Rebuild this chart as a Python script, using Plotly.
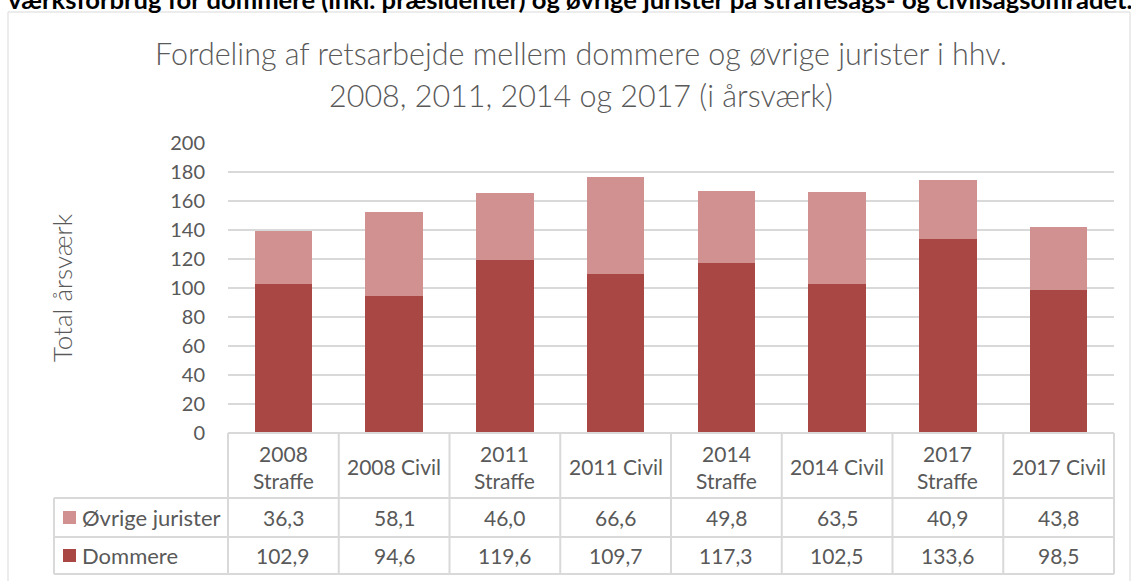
import plotly.graph_objects as go

# ---------------- data ----------------
categories = ["2008<br>Straffe", "2008 Civil", "2011<br>Straffe", "2011 Civil",
              "2014<br>Straffe", "2014 Civil", "2017<br>Straffe", "2017 Civil"]
dommere = [102.9, 94.6, 119.6, 109.7, 117.3, 102.5, 133.6, 98.5]
ovrige = [36.3, 58.1, 46.0, 66.6, 49.8, 63.5, 40.9, 43.8]
series_names = ["Øvrige jurister", "Dommere"]
y_ticks = list(range(0, 201, 20))
title_lines = ["Fordeling af retsarbejde mellem dommere og øvrige jurister i hhv.",
               "2008, 2011, 2014 og 2017 (i årsværk)"]
y_title = "Total årsværk"
top_text = "værksforbrug for dommere (inkl. præsidenter) og øvrige jurister på straffesags- og civilsagsområdet."

# ---------------- styling ----------------
W, H = 1131, 581
FONT = "Lato"
GRAY = "#595959"
LINE = "#d9d9d9"
C_DARK = "#a94745"
C_LIGHT = "#d19190"

X0, X1 = 228, 1114      # plot area (px)
Y_TOP, Y_BOT = 143, 433
ROW_Y = [433, 498, 537, 574]   # table row boundaries (px)
LEG_X = 54
TXT = 21


def px(x):
    return x / W


def py(y):
    return 1 - y / H


def fmt(v):
    return f"{v:.1f}".replace(".", ",")


n = len(categories)
xs = list(range(n))

fig = go.Figure()
fig.add_trace(go.Bar(x=xs, y=dommere, name=series_names[1], marker_color=C_DARK,
                     width=0.52, showlegend=False, marker_line_width=0))
fig.add_trace(go.Bar(x=xs, y=ovrige, name=series_names[0], marker_color=C_LIGHT,
                     width=0.52, showlegend=False, marker_line_width=0))

shapes = []
# outer chart border
shapes.append(dict(type="rect", xref="paper", yref="paper", x0=px(8), x1=px(1130),
                   y0=py(620), y1=py(12), line=dict(color=LINE, width=1), layer="below"))
# table horizontal lines
shapes.append(dict(type="line", xref="paper", yref="paper", x0=px(X0), x1=px(X1),
                   y0=py(ROW_Y[0]), y1=py(ROW_Y[0]), line=dict(color=LINE, width=2)))
for yy in ROW_Y[1:]:
    shapes.append(dict(type="line", xref="paper", yref="paper", x0=px(LEG_X), x1=px(X1),
                       y0=py(yy), y1=py(yy), line=dict(color=LINE, width=2)))
# table vertical lines
colw = (X1 - X0) / n
for i in range(n + 1):
    xx = X0 + i * colw
    shapes.append(dict(type="line", xref="paper", yref="paper", x0=px(xx), x1=px(xx),
                       y0=py(ROW_Y[0]), y1=py(ROW_Y[3]), line=dict(color=LINE, width=2)))
shapes.append(dict(type="line", xref="paper", yref="paper", x0=px(LEG_X), x1=px(LEG_X),
                   y0=py(ROW_Y[1]), y1=py(ROW_Y[3]), line=dict(color=LINE, width=2)))

annotations = []
# legend entries in table
for r, (nm, col) in enumerate([(series_names[0], C_LIGHT), (series_names[1], C_DARK)]):
    yc = (ROW_Y[r + 1] + ROW_Y[r + 2]) / 2
    shapes.append(dict(type="rect", xref="paper", yref="paper", x0=px(63), x1=px(76),
                       y0=py(yc + 6.5), y1=py(yc - 6.5), fillcolor=col, line=dict(width=0)))
    annotations.append(dict(xref="paper", yref="paper", x=px(80), y=py(yc), text=nm,
                            showarrow=False, xanchor="left", yanchor="middle",
                            font=dict(family=FONT, size=22, color=GRAY)))

# header and values
for i, cat in enumerate(categories):
    annotations.append(dict(xref="x", yref="paper", x=i, y=py((ROW_Y[0] + ROW_Y[1]) / 2 + 1),
                            text=cat, showarrow=False, xanchor="center", yanchor="middle",
                            font=dict(family=FONT, size=TXT, color=GRAY)))
    for r, vals in enumerate([ovrige, dommere]):
        yc = (ROW_Y[r + 1] + ROW_Y[r + 2]) / 2
        annotations.append(dict(xref="x", yref="paper", x=i, y=py(yc), text=fmt(vals[i]),
                                showarrow=False, xanchor="center", yanchor="middle",
                                font=dict(family=FONT, size=TXT, color=GRAY)))

# chart titles
annotations.append(dict(xref="paper", yref="paper", x=px(581), y=py(53), text=title_lines[0],
                        showarrow=False, xanchor="center", yanchor="middle",
                        font=dict(family=FONT, size=30.5, color=GRAY, weight=300)))
annotations.append(dict(xref="paper", yref="paper", x=px(581), y=py(95), text=title_lines[1],
                        showarrow=False, xanchor="center", yanchor="middle",
                        font=dict(family=FONT, size=30.5, color=GRAY, weight=300)))
annotations.append(dict(xref="paper", yref="paper", x=px(62), y=py(288), text=y_title,
                        showarrow=False, textangle=-90, xanchor="center", yanchor="middle",
                        font=dict(family=FONT, size=26, color=GRAY, weight=300)))

fig.update_layout(
    template="none",
    width=W, height=H,
    autosize=False,
    margin=dict(l=0, r=0, t=0, b=0, pad=0, autoexpand=False),
    paper_bgcolor="white", plot_bgcolor="white",
    barmode="stack",
    showlegend=False,
    title=dict(text="<b>" + top_text + "</b>", x=px(8), xanchor="left", xref="container",
               y=1, yref="container", yanchor="middle", automargin=False,
               font=dict(family=FONT, size=25.6, color="#000000")),
    xaxis=dict(domain=[px(X0), px(X1)], range=[-0.5, n - 0.5], showticklabels=False,
               showgrid=False, zeroline=False, showline=False, ticks="", automargin=False),
    yaxis=dict(domain=[py(Y_BOT), py(Y_TOP)], range=[0, 200], tickvals=y_ticks,
               showgrid=True, gridcolor=LINE, gridwidth=2, zeroline=False, showline=False,
               ticks="", ticklabelstandoff=22, automargin=False,
               tickfont=dict(family=FONT, size=20, color=GRAY)),
    shapes=shapes,
    annotations=annotations,
    font=dict(family=FONT),
)

fig.write_html("out.html", config={"displayModeBar": False},
               post_script="document.body.style.margin='0';document.body.style.overflow='hidden';")
